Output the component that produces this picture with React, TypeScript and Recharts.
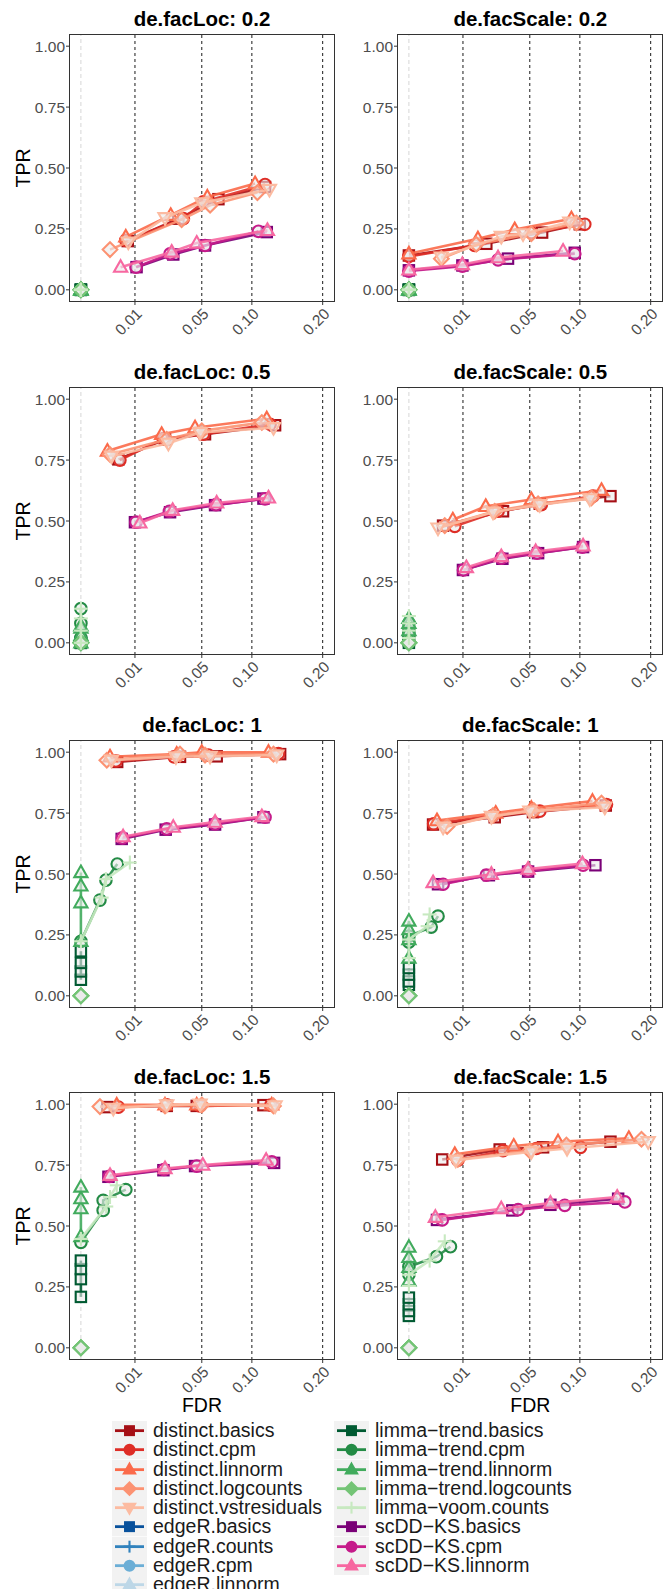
import React from 'react';
import { ScatterChart, Scatter, XAxis, YAxis, ReferenceLine } from 'recharts';

const methods = [
  'distinct.basics', 'distinct.cpm', 'distinct.linnorm', 'distinct.logcounts', 'distinct.vstresiduals',
  'edgeR.basics', 'edgeR.counts', 'edgeR.cpm', 'edgeR.linnorm',
  'limma\u2212trend.basics', 'limma\u2212trend.cpm', 'limma\u2212trend.linnorm', 'limma\u2212trend.logcounts', 'limma\u2212voom.counts',
  'scDD\u2212KS.basics', 'scDD\u2212KS.cpm', 'scDD\u2212KS.linnorm',
];
const methodColors = [
  '#a50f15', '#de2d26', '#fb6a4a', '#fc9272', '#fcbba1',
  '#08519c', '#3182bd', '#6baed6', '#bdd7e7',
  '#005a32', '#238b45', '#41ab5d', '#74c476', '#c7e9c0',
  '#7a0177', '#c51b8a', '#f768a1',
];
const methodShapes = [
  'square', 'circle', 'triangle', 'diamond', 'triangleDown',
  'square', 'plus', 'circle', 'triangle',
  'square', 'circle', 'triangle', 'diamond', 'plus',
  'square', 'circle', 'triangle',
];

const fdrTicks = [0.01, 0.05, 0.1, 0.2];
const tprTicks = [0, 0.25, 0.5, 0.75, 1];
const panelTitles = [
  'de.facLoc: 0.2', 'de.facScale: 0.2', 'de.facLoc: 0.5', 'de.facScale: 0.5',
  'de.facLoc: 1', 'de.facScale: 1', 'de.facLoc: 1.5', 'de.facScale: 1.5',
];

const Z = [0, 0, 0, 0];

// rows follow the methods order
const loc02Fdr = [
  [0.0075, 0.0325, 0.0647, 0.116], [0.0069, 0.0359, 0.0513, 0.116], [0.0069, 0.0276, 0.0547, 0.1038],
  [0.0029, 0.0347, 0.0571, 0.1066], [0.0077, 0.0242, 0.05, 0.1216],
  [], [], [], [],
  Z, Z, Z, Z, Z,
  [0.0106, 0.0292, 0.0527, 0.1182], [0.0104, 0.0272, 0.0527, 0.1078], [0.0054, 0.0282, 0.0459, 0.119],
];
const loc02Tpr = [
  [0.2, 0.292, 0.372, 0.422], [0.203, 0.292, 0.361, 0.432], [0.217, 0.306, 0.381, 0.436],
  [0.165, 0.288, 0.347, 0.399], [0.196, 0.296, 0.357, 0.412],
  [], [], [], [],
  Z, Z, Z, Z, Z,
  [0.093, 0.145, 0.182, 0.237], [0.093, 0.148, 0.182, 0.24], [0.093, 0.155, 0.192, 0.244],
];

const scale02Fdr = [
  [0, 0.0205, 0.0607, 0.0999], [0, 0.0148, 0.0513, 0.1058], [0, 0.0163, 0.0383, 0.0904],
  [0.0036, 0.0155, 0.0513, 0.096], [0.0036, 0.0292, 0.0446, 0.0885],
  [], [], [], [],
  Z, Z, Z, Z, Z,
  [0, 0.0098, 0.0336, 0.0941], [0, 0.0098, 0.0272, 0.0941], [0, 0.0098, 0.0272, 0.0813],
];
const scale02Tpr = [
  [0.141, 0.189, 0.235, 0.269], [0.137, 0.182, 0.235, 0.269], [0.148, 0.21, 0.247, 0.292],
  [0.128, 0.187, 0.23, 0.274], [0.134, 0.219, 0.23, 0.278],
  [], [], [], [],
  Z, Z, Z, Z, Z,
  [0.08, 0.1, 0.128, 0.152], [0.077, 0.097, 0.123, 0.148], [0.082, 0.104, 0.132, 0.159],
];

const loc05Fdr = [
  [0.0048, 0.0242, 0.0527, 0.129], [0.0052, 0.0233, 0.0513, 0.1225], [0.0024, 0.0223, 0.0446, 0.1182],
  [0.0029, 0.0252, 0.05, 0.112], [0.0032, 0.0262, 0.0486, 0.1269],
  [], [], [], [],
  Z, Z, Z, Z, Z,
  [0.01, 0.0272, 0.0616, 0.114], [0.0104, 0.0268, 0.0625, 0.116], [0.0119, 0.0288, 0.0631, 0.1204],
];
const loc05Tpr = [
  [0.753, 0.835, 0.856, 0.893], [0.75, 0.838, 0.856, 0.897], [0.787, 0.856, 0.883, 0.92],
  [0.773, 0.835, 0.87, 0.904], [0.766, 0.819, 0.863, 0.883],
  [], [], [], [],
  [0, 0, 0, 0.005], [0, 0.02, 0.08, 0.14], [0, 0.03, 0.06, 0.07], [0, 0, 0, 0], [0, 0.05, 0.1, 0.14],
  [0.495, 0.536, 0.565, 0.592], [0.495, 0.54, 0.567, 0.591], [0.492, 0.544, 0.574, 0.595],
];

const scale05Fdr = [
  [0.004, 0.0303, 0.0586, 0.139], [0.0072, 0.0272, 0.06, 0.116], [0.0066, 0.0202, 0.0513, 0.1269],
  [0.0044, 0.0252, 0.0571, 0.114], [0.0029, 0.0242, 0.0586, 0.112],
  [], [], [], [],
  Z, Z, Z, Z, Z,
  [0.01, 0.0299, 0.0571, 0.1038], [0.0102, 0.0292, 0.0562, 0.103], [0.0113, 0.0292, 0.055, 0.1038],
];
const scale05Tpr = [
  [0.481, 0.54, 0.571, 0.602], [0.478, 0.54, 0.567, 0.602], [0.505, 0.56, 0.588, 0.626],
  [0.481, 0.54, 0.571, 0.595], [0.471, 0.536, 0.567, 0.591],
  [], [], [], [],
  [0, 0.01, 0.02, 0.04], [0, 0.03, 0.05, 0.08], [0.02, 0.05, 0.08, 0.1], [0, 0, 0, 0], [0.02, 0.05, 0.08, 0.11],
  [0.299, 0.345, 0.368, 0.393], [0.299, 0.348, 0.368, 0.393], [0.309, 0.354, 0.375, 0.398],
];

const loc1Fdr = [
  [0.0045, 0.0336, 0.0631, 0.1358], [0.0042, 0.0297, 0.0556, 0.1335], [0.0029, 0.0314, 0.05, 0.1204],
  [0.0023, 0.0336, 0.0527, 0.1269], [0.0032, 0.0309, 0.0571, 0.1313],
  [], [], [], [],
  Z, [0, 0.00124, 0.00214, 0.00453], Z, Z, [0, 0.00147, 0.00214, 0.0082],
  [0.0057, 0.0246, 0.0616, 0.114], [0.0059, 0.0252, 0.0616, 0.116], [0.0061, 0.0292, 0.0616, 0.112],
];
const loc1Tpr = [
  [0.96, 0.981, 0.983, 0.992], [0.964, 0.981, 0.988, 0.994], [0.981, 0.992, 1, 1],
  [0.967, 0.992, 0.988, 0.992], [0.967, 0.981, 0.983, 0.988],
  [], [], [], [],
  [0.066, 0.1, 0.135, 0.183], [0.224, 0.393, 0.475, 0.541], [0.224, 0.382, 0.451, 0.506], [0, 0, 0, 0], [0.224, 0.403, 0.479, 0.547],
  [0.644, 0.682, 0.703, 0.733], [0.648, 0.685, 0.706, 0.733], [0.653, 0.692, 0.713, 0.736],
];

const scale1Fdr = [
  [0.002, 0.0252, 0.0527, 0.1326], [0.0021, 0.0242, 0.0586, 0.1335], [0.0027, 0.0258, 0.0513, 0.1153],
  [0.005, 0.0242, 0.0533, 0.1269], [0.004, 0.0233, 0.05, 0.1313],
  [], [], [], [],
  Z, [0, 0, 0.0017, 0.0029], Z, Z, [0, 0, 0.0012, 0.00147],
  [0.0029, 0.0219, 0.0486, 0.119], [0.004, 0.0205, 0.0486, 0.1038], [0.002, 0.0233, 0.0486, 0.103],
];
const scale1Tpr = [
  [0.703, 0.733, 0.754, 0.781], [0.706, 0.74, 0.758, 0.785], [0.719, 0.75, 0.77, 0.799],
  [0.695, 0.74, 0.761, 0.791], [0.692, 0.736, 0.758, 0.774],
  [], [], [], [],
  [0.045, 0.059, 0.087, 0.114], [0.22, 0.245, 0.282, 0.327], [0.155, 0.231, 0.272, 0.307], [0, 0, 0, 0], [0.155, 0.231, 0.286, 0.334],
  [0.458, 0.495, 0.51, 0.536], [0.458, 0.495, 0.513, 0.536], [0.465, 0.499, 0.52, 0.543],
];

const loc15Fdr = [
  [0.0024, 0.0252, 0.0459, 0.114], [0.0048, 0.0252, 0.0486, 0.1234], [0.0044, 0.0242, 0.0459, 0.1246],
  [0.00124, 0.0242, 0.05, 0.1269], [0.0036, 0.0252, 0.0486, 0.129],
  [], [], [], [],
  Z, [0, 0.0017, 0.0017, 0.0069], Z, Z, [0, 0.0022, 0.0029, 0.0044],
  [0.0026, 0.0233, 0.0446, 0.1277], [0.0028, 0.0236, 0.0459, 0.1247], [0.0029, 0.0242, 0.0508, 0.1174],
];
const loc15Tpr = [
  [0.988, 0.993, 0.993, 0.996], [0.988, 0.997, 0.993, 0.996], [0.997, 0.997, 0.997, 0.997],
  [0.99, 0.993, 0.997, 0.993], [0.983, 0.997, 1, 0.993],
  [], [], [], [],
  [0.209, 0.282, 0.323, 0.358], [0.433, 0.564, 0.605, 0.649], [0.457, 0.571, 0.612, 0.66], [0, 0, 0, 0], [0.447, 0.58, 0.619, 0.667],
  [0.702, 0.729, 0.746, 0.759], [0.704, 0.732, 0.746, 0.763], [0.708, 0.736, 0.75, 0.77],
];

const scale15Fdr = [
  [0.0038, 0.0282, 0.0616, 0.139], [0.0082, 0.0303, 0.0556, 0.1007], [0.0072, 0.0376, 0.0761, 0.1655],
  [0.0082, 0.05, 0.0849, 0.1851], [0.0075, 0.0513, 0.0856, 0.1959],
  [], [], [], [],
  Z, [0, 0, 0.0026, 0.0059], Z, Z, [0, 0, 0.00147, 0.0044],
  [0.0027, 0.0366, 0.0685, 0.1498], [0.0038, 0.0408, 0.0831, 0.1595], [0.0024, 0.0292, 0.0685, 0.1484],
];
const scale15Tpr = [
  [0.773, 0.814, 0.823, 0.846], [0.77, 0.809, 0.818, 0.823], [0.794, 0.828, 0.846, 0.86],
  [0.773, 0.809, 0.832, 0.856], [0.77, 0.805, 0.818, 0.846],
  [], [], [], [],
  [0.131, 0.151, 0.179, 0.206], [0.3, 0.333, 0.374, 0.415], [0.275, 0.33, 0.371, 0.413], [0, 0, 0, 0], [0.254, 0.3, 0.358, 0.437],
  [0.525, 0.564, 0.587, 0.612], [0.525, 0.567, 0.585, 0.599], [0.536, 0.571, 0.594, 0.619],
];

const panelFdr = [loc02Fdr, scale02Fdr, loc05Fdr, scale05Fdr, loc1Fdr, scale1Fdr, loc15Fdr, scale15Fdr];
const panelTpr = [loc02Tpr, scale02Tpr, loc05Tpr, scale05Tpr, loc1Tpr, scale1Tpr, loc15Tpr, scale15Tpr];

const FONT = '"Liberation Sans", Arial, Helvetica, sans-serif';
const COL_LEFT = [0, 328.3];
const ROW_STEP = 352.8;
const FRAME_TOP0 = 33.9;
const PLOT_H = 268;
const CHART_W = 338;
const Y_W = 45;
const M_LEFT = 24;
const M_TOP = 10;
const X_H = 40;

function Marker({ cx, cy, shape, color, filled, s = 1 }: any) {
  const fill = filled ? color : 'rgba(235,235,235,0.6)';
  const sw = 2.1;
  if (cx == null || cy == null) return null;
  switch (shape) {
    case 'square':
      return <rect x={cx - 5.2 * s} y={cy - 5.2 * s} width={10.4 * s} height={10.4 * s} fill={fill} stroke={color} strokeWidth={sw} />;
    case 'circle':
      return <circle cx={cx} cy={cy} r={5.8 * s} fill={fill} stroke={color} strokeWidth={sw} />;
    case 'triangle':
      return <polygon points={`${cx},${cy - 7 * s} ${cx + 6.6 * s},${cy + 4.6 * s} ${cx - 6.6 * s},${cy + 4.6 * s}`} fill={fill} stroke={color} strokeWidth={sw} />;
    case 'triangleDown':
      return <polygon points={`${cx},${cy + 7 * s} ${cx + 6.6 * s},${cy - 4.6 * s} ${cx - 6.6 * s},${cy - 4.6 * s}`} fill={fill} stroke={color} strokeWidth={sw} />;
    case 'diamond':
      return <polygon points={`${cx},${cy - 7.3 * s} ${cx + 7.3 * s},${cy} ${cx},${cy + 7.3 * s} ${cx - 7.3 * s},${cy}`} fill={fill} stroke={color} strokeWidth={sw} />;
    default:
      return (
        <g stroke={color} strokeWidth={sw}>
          <line x1={cx - 7 * s} y1={cy} x2={cx + 7 * s} y2={cy} />
          <line x1={cx} y1={cy - 7 * s} x2={cx} y2={cy + 7 * s} />
        </g>
      );
  }
}

const FdrTick = (props: any) => {
  const { x, y, payload } = props;
  return (
    <g transform={`translate(${x},${y})`}>
      <text transform="rotate(-45)" textAnchor="end" dy="0.72em" fontSize={15.5} fill="#4d4d4d" fontFamily={FONT}>
        {Number(payload.value).toFixed(2)}
      </text>
    </g>
  );
};

function Panel({ idx }: { idx: number }) {
  const col = idx % 2;
  const row = Math.floor(idx / 2);
  const frameTop = FRAME_TOP0 + ROW_STEP * row;
  const left = COL_LEFT[col];
  const fdr = panelFdr[idx];
  const tpr = panelTpr[idx];
  return (
    <>
      <div style={{
        position: 'absolute', left: left + M_LEFT + Y_W, width: CHART_W - M_LEFT - Y_W - 3, top: frameTop - 27,
        textAlign: 'center', fontWeight: 'bold', fontSize: 20.5, lineHeight: '24px', color: '#000',
      }}>
        {panelTitles[idx]}
      </div>
      <div style={{ position: 'absolute', left, top: frameTop - M_TOP }}>
        <ScatterChart width={CHART_W} height={M_TOP + PLOT_H + X_H} margin={{ top: M_TOP, right: 3, bottom: 0, left: M_LEFT }}>
          <XAxis
            type="number" dataKey="fdr" scale="sqrt" domain={[-0.000484, 0.2209]} allowDataOverflow
            ticks={fdrTicks} height={X_H} tick={<FdrTick />} tickSize={3} tickMargin={2}
            axisLine={false} tickLine={{ stroke: '#333' }} interval={0}
          />
          <YAxis
            type="number" dataKey="tpr" domain={[-0.05, 1.05]} allowDataOverflow ticks={tprTicks} width={Y_W}
            tickFormatter={(v: number) => v.toFixed(2)} tick={{ fontSize: 15.5, fill: '#4d4d4d', fontFamily: FONT }}
            tickSize={3} tickMargin={1} axisLine={false} tickLine={{ stroke: '#333' }} interval={0}
          />
          <ReferenceLine x={0} stroke="#d6d6d6" strokeDasharray="4 3" strokeWidth={1} />
          {fdrTicks.map(t => (
            <ReferenceLine key={t} x={t} stroke="#1a1a1a" strokeDasharray="3 3" strokeWidth={1} />
          ))}
          {methods.map((m, i) => {
            const pts = fdr[i].map((f, k) => ({ fdr: f, tpr: tpr[i][k] }));
            if (pts.length === 0) return null;
            return (
              <Scatter
                key={m} name={m} data={pts} isAnimationActive={false} lineType="joint"
                line={{ stroke: methodColors[i], strokeWidth: 2.6, strokeOpacity: 0.9 }}
                shape={(p: any) => <Marker cx={p.cx} cy={p.cy} shape={methodShapes[i]} color={methodColors[i]} />}
              />
            );
          })}
        </ScatterChart>
      </div>
      <div style={{
        position: 'absolute', left: left + M_LEFT + Y_W, top: frameTop, width: CHART_W - M_LEFT - Y_W - 3, height: PLOT_H,
        border: '1px solid #333', boxSizing: 'border-box', pointerEvents: 'none',
      }} />
    </>
  );
}

function LegendItem({ i }: { i: number }) {
  return (
    <div style={{ display: 'flex', alignItems: 'center', height: 19.3 }}>
      <svg width={35} height={19.3} style={{ display: 'block', flex: 'none' }}>
        <rect x={0} y={0} width={35} height={19.3} fill="#f2f2f2" />
        <line x1={3} x2={32} y1={9.65} y2={9.65} stroke={methodColors[i]} strokeWidth={2.8} />
        <Marker cx={17.5} cy={9.65} shape={methodShapes[i]} color={methodColors[i]} filled s={0.85} />
      </svg>
      <span style={{ marginLeft: 6, fontSize: 19.5, lineHeight: '19.3px', color: '#1a1a1a', whiteSpace: 'nowrap' }}>{methods[i]}</span>
    </div>
  );
}

export default function App() {
  return (
    <div style={{ position: 'absolute', left: 0, top: 0, width: 667, height: 1589, overflow: 'hidden', background: '#fff', fontFamily: FONT }}>
      {panelTitles.map((_, i) => <Panel key={i} idx={i} />)}
      {[0, 1, 2, 3].map(r => (
        <div key={r} style={{
          position: 'absolute', left: 22.5 - 30, top: FRAME_TOP0 + ROW_STEP * r + PLOT_H / 2 - 12, width: 60,
          textAlign: 'center', fontSize: 19.5, lineHeight: '24px', transform: 'rotate(-90deg)', color: '#000',
        }}>TPR</div>
      ))}
      {[0, 1].map(c => (
        <div key={c} style={{
          position: 'absolute', left: COL_LEFT[c] + M_LEFT + Y_W, width: CHART_W - M_LEFT - Y_W - 3, top: 1393,
          textAlign: 'center', fontSize: 19.5, lineHeight: '24px', color: '#000',
        }}>FDR</div>
      ))}
      <div style={{ position: 'absolute', left: 112, top: 1421 }}>
        {methods.slice(0, 9).map((_, i) => <LegendItem key={i} i={i} />)}
      </div>
      <div style={{ position: 'absolute', left: 334, top: 1421 }}>
        {methods.slice(9).map((_, i) => <LegendItem key={i + 9} i={i + 9} />)}
      </div>
    </div>
  );
}
